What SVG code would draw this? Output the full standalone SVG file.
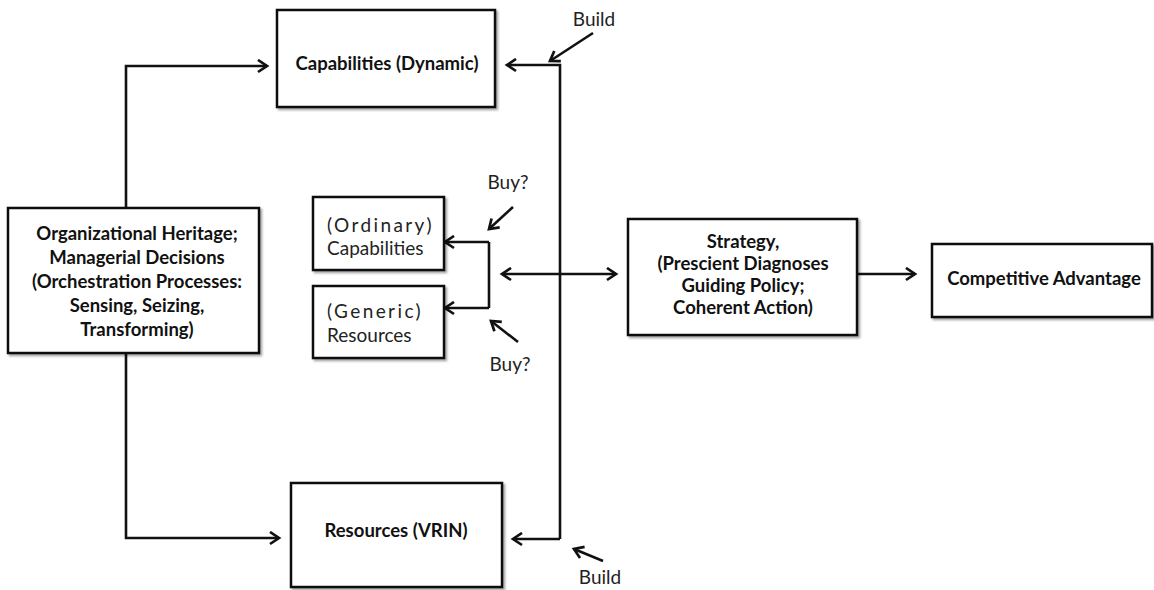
<svg xmlns="http://www.w3.org/2000/svg" width="1154" height="590" viewBox="0 0 1154 590">
<defs>
<style>
.box{fill:#fff;stroke:#111;stroke-width:2.5}
.b{font-family:Lato,"Liberation Sans",sans-serif;font-weight:bold;font-size:18.5px;fill:#111;text-anchor:middle}
.r{font-family:Lato,"Liberation Sans",sans-serif;font-size:19px;fill:#222}
.sp{letter-spacing:2.4px}
.ln{fill:none;stroke:#111;stroke-width:2.6}
</style>
<marker id="ah" markerWidth="15" markerHeight="15" refX="12" refY="7.5" orient="auto-start-reverse" markerUnits="userSpaceOnUse">
<path d="M3,1.5 L12,7.5 L3,13.5" fill="none" stroke="#111" stroke-width="2.7"/>
</marker>
<filter id="sh" x="-10%" y="-10%" width="130%" height="130%">
<feDropShadow dx="2" dy="2" stdDeviation="1.2" flood-color="#000" flood-opacity="0.35"/>
</filter>
</defs>
<g id="connectors">
<path class="ln" d="M126,208 V66 H267" marker-end="url(#ah)"/>
<path class="ln" d="M126,353 V538 H279" marker-end="url(#ah)"/>
<path class="ln" d="M560,539 V65 H507" marker-end="url(#ah)"/>
<path class="ln" d="M560,539 H513" marker-end="url(#ah)"/>
<path class="ln" d="M489,242 V308"/>
<path class="ln" d="M489,242 H445" marker-end="url(#ah)"/>
<path class="ln" d="M489,308 H445" marker-end="url(#ah)"/>
<path class="ln" d="M502,274 H616" marker-start="url(#ah)" marker-end="url(#ah)"/>
<path class="ln" d="M857,274 H915" marker-end="url(#ah)"/>
<path class="ln" d="M593,33 L550,61" marker-end="url(#ah)"/>
<path class="ln" d="M603,561 L574,549" marker-end="url(#ah)"/>
<path class="ln" d="M513,207 L489,229" marker-end="url(#ah)"/>
<path class="ln" d="M518,342 L491,321" marker-end="url(#ah)"/>
</g>
<g id="labels">
<text class="r" x="594" y="26" text-anchor="middle">Build</text>
<text class="r" x="600" y="584" text-anchor="middle">Build</text>
<text class="r" x="508" y="189" text-anchor="middle">Buy?</text>
<text class="r" x="510" y="371" text-anchor="middle">Buy?</text>
</g>
<g id="heritage">
<rect class="box" x="8" y="208" width="251" height="145" filter="url(#sh)"/>
<text class="b" x="137" y="240">Organizational Heritage;</text>
<text class="b" x="137" y="264">Managerial Decisions</text>
<text class="b" x="137" y="288">(Orchestration Processes:</text>
<text class="b" x="137" y="312">Sensing, Seizing,</text>
<text class="b" x="137" y="336">Transforming)</text>
</g>
<g id="capabilities-dynamic">
<rect class="box" x="277" y="10" width="218" height="97" filter="url(#sh)"/>
<text class="b" x="387" y="70">Capabilities (Dynamic)</text>
</g>
<g id="resources-vrin">
<rect class="box" x="291" y="483" width="211" height="104" filter="url(#sh)"/>
<text class="b" x="396" y="537">Resources (VRIN)</text>
</g>
<g id="ordinary-capabilities">
<rect class="box" x="313" y="197" width="131" height="73" filter="url(#sh)"/>
<text class="r sp" x="327" y="232">(Ordinary)</text>
<text class="r" x="327" y="255">Capabilities</text>
</g>
<g id="generic-resources">
<rect class="box" x="313" y="286" width="131" height="72" filter="url(#sh)"/>
<text class="r sp" x="327" y="318">(Generic)</text>
<text class="r" x="327" y="342">Resources</text>
</g>
<g id="strategy">
<rect class="box" x="628" y="219" width="229" height="116" filter="url(#sh)"/>
<text class="b" x="743" y="248">Strategy,</text>
<text class="b" x="743" y="270">(Prescient Diagnoses</text>
<text class="b" x="743" y="292">Guiding Policy;</text>
<text class="b" x="743" y="314">Coherent Action)</text>
</g>
<g id="competitive-advantage">
<rect class="box" x="932" y="244" width="220" height="73" filter="url(#sh)"/>
<text class="b" x="1044" y="285">Competitive Advantage</text>
</g>
</svg>
